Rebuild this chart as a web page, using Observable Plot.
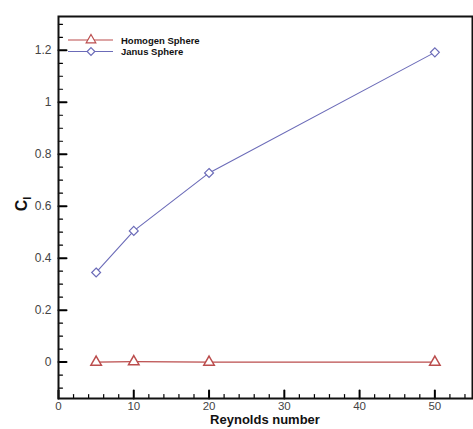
<!DOCTYPE html>
<html><head><meta charset="utf-8">
<script src="https://cdn.jsdelivr.net/npm/d3@7"></script>
<script src="https://cdn.jsdelivr.net/npm/@observablehq/plot@0.6"></script>
<style>body{margin:0;background:#fff}#c{position:relative;width:473px;height:429px}</style>
</head><body><div id="c"></div>
<script>
const reynolds = [5, 10, 20, 50];
const homogen = [0, 0.002, 0, 0];
const janus = [0.345, 0.505, 0.728, 1.192];
const seriesNames = ["Homogen Sphere", "Janus Sphere"];
const xMajor = [0, 10, 20, 30, 40, 50];
const xMinor = d3.range(0, 55, 2).filter(v => v % 10 !== 0);
const yMajor = [0, 0.2, 0.4, 0.6, 0.8, 1, 1.2];
const yMinor = d3.range(-0.1, 1.32, 0.05).map(v => +v.toFixed(2)).filter(v => Math.abs(v * 5 - Math.round(v * 5)) > 1e-6);

const red = "#bb4d4d", blue = "#6b6bb8";
const rows = reynolds.flatMap((x, i) => [
  {x, y: homogen[i], s: seriesNames[0]},
  {x, y: janus[i], s: seriesNames[1]}
]);
const font = "'Liberation Sans', Arial, sans-serif";
const tickShape = {draw(ctx, l) { ctx.moveTo(0, 0); ctx.lineTo(0, -l); }};

const chart = Plot.plot({
  width: 473, height: 429,
  marginLeft: 58, marginRight: 1, marginTop: 16, marginBottom: 31,
  style: {fontFamily: font, background: "#fff"},
  x: {domain: [0, 55], label: null},
  y: {domain: [-0.14, 1.33], label: null},
  marks: [
    Plot.line(rows.filter(d => d.s === seriesNames[0]), {x: "x", y: "y", stroke: red, strokeWidth: 1.3}),
    Plot.line(rows.filter(d => d.s === seriesNames[1]), {x: "x", y: "y", stroke: blue, strokeWidth: 1.1}),
    Plot.dot(rows.filter(d => d.s === seriesNames[0]), {x: "x", y: "y", symbol: "triangle", r: 3.9, stroke: red, strokeWidth: 1.5, fill: "white"}),
    Plot.dot(rows.filter(d => d.s === seriesNames[1]), {x: "x", y: "y", symbol: "diamond2", r: 4, stroke: blue, strokeWidth: 1.2, fill: "white"}),
    Plot.vector(xMajor, {x: d => d, frameAnchor: "bottom", length: 8, anchor: "start", rotate: 0, shape: tickShape, stroke: "#000", strokeWidth: 2}),
    Plot.vector(xMinor, {x: d => d, frameAnchor: "bottom", length: 4, anchor: "start", rotate: 0, shape: tickShape, stroke: "#000", strokeWidth: 1.2}),
    Plot.vector(yMajor, {y: d => d, frameAnchor: "left", length: 8, anchor: "start", rotate: 90, shape: tickShape, stroke: "#000", strokeWidth: 2}),
    Plot.vector(yMinor, {y: d => d, frameAnchor: "left", length: 4, anchor: "start", rotate: 90, shape: tickShape, stroke: "#000", strokeWidth: 1.2}),
    Plot.axisX({ticks: xMajor, tickSize: 0, tickPadding: 3, fontSize: 11.5, fill: "#444", tickFormat: d => d}),
    Plot.axisY({ticks: yMajor, tickSize: 0, tickPadding: 7, fontSize: 12, fill: "#444", tickFormat: d => d}),
    Plot.frame({stroke: "#111", strokeWidth: 2})
  ]
});
document.getElementById("c").append(chart);

const svg = d3.select(chart);
// axis titles
svg.append("text").attr("x", 265).attr("y", 424).attr("text-anchor", "middle")
  .attr("font-family", font).attr("font-weight", "bold").attr("font-size", 13).attr("fill", "#111")
  .text("Reynolds number");
const yl = svg.append("text").attr("transform", "translate(27,204) rotate(-90)").attr("text-anchor", "middle")
  .attr("font-family", font).attr("font-weight", "bold").attr("font-size", 16).attr("fill", "#111");
yl.append("tspan").text("C");
yl.append("tspan").attr("font-size", 11).attr("dy", 4).text("l");

// legend
const colors = [red, blue];
const symbols = [d3.symbolTriangle, d3.symbolDiamond2];
seriesNames.forEach((name, i) => {
  const g = svg.append("g").attr("transform", `translate(68,${40 + i * 11.5})`);
  g.append("line").attr("x1", 0).attr("x2", 45).attr("y1", 0).attr("y2", 0).attr("stroke", colors[i]).attr("stroke-width", 1.2);
  g.append("path").attr("transform", "translate(23,0)").attr("d", d3.symbol(symbols[i], i === 0 ? 40 : 38)())
    .attr("fill", "white").attr("stroke", colors[i]).attr("stroke-width", 1.2);
  g.append("text").attr("x", 53).attr("y", 3.5).attr("text-anchor", "start").attr("font-family", font).attr("font-weight", "bold")
    .attr("font-size", 9.5).attr("fill", "#111").text(name);
});
</script></body></html>
